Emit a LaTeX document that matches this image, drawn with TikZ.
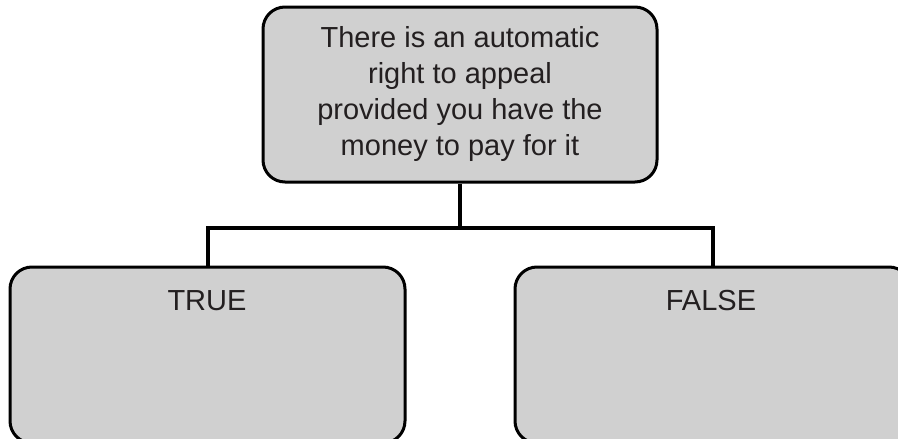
\documentclass[tikz,border=0pt]{standalone}
\usepackage{fontspec}
\setmainfont{Liberation Sans}
\begin{document}
\begin{tikzpicture}[x=1pt,y=-1pt,
  card/.style={draw=black, line width=3pt, fill=boxgray, rounded corners=22pt,
    inner sep=0pt, minimum height=#1},
  card/.default=172pt,
  caption/.style={text=inkgray, font=\fontsize{29}{35.7}\selectfont, align=center, inner sep=0pt},
  link/.style={draw=black, line width=4pt}]
  \definecolor{boxgray}{HTML}{D0D0D0}
  \definecolor{inkgray}{HTML}{231F20}
  \useasboundingbox (0,0) rectangle (898,439);
  \clip (0,0) rectangle (898,439);
  % question box
  \node[card=175pt, minimum width=394pt] (q) at (460,94.5) {};
  \node[caption, anchor=base] (qtext) at (460,155)
    {There is an automatic\\right to appeal\\provided you have the\\money to pay for it};
  % answer boxes (running off the lower and right edges)
  \node[card=176pt, minimum width=395pt] (t) at (207.5,355) {};
  \node[card=176pt, minimum width=396pt] (f) at (713,355) {};
  \node[caption, anchor=base] (ttext) at (207,310) {TRUE};
  \node[caption, anchor=base] (ftext) at (711,310) {FALSE};
  % branching connector
  \coordinate (bar) at (460,228);
  \draw[link] (q.south) -- (bar);
  \draw[link] (t.north) -- (t.north |- bar) -- (f.north |- bar) -- (f.north);
\end{tikzpicture}
\end{document}
